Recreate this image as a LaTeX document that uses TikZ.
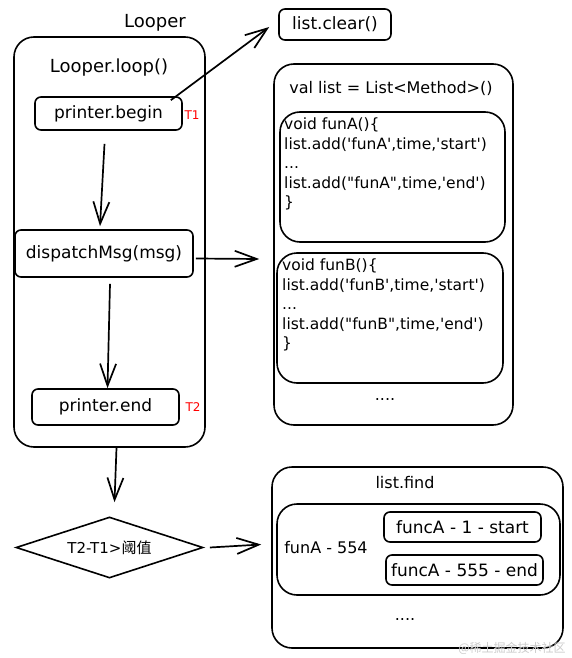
\documentclass[tikz,border=0pt]{standalone}
\usepackage{fontspec}
\setmainfont{DejaVu Sans}
\newfontfamily\cjkfont{Noto Sans CJK SC}
\usetikzlibrary{arrows.meta, shapes.geometric}
\newcommand{\sq}{\textquotesingle}
\newcommand{\dq}{\textquotedbl}

\begin{document}
\begin{tikzpicture}[x=1pt, y=-1pt,
        box/.style={draw, line width=1.6pt, rounded corners=6pt, inner sep=0pt, font=\fontsize{17}{20}\selectfont},
        panel/.style={draw, line width=1.6pt, rounded corners=20pt, inner sep=0pt},
        textlabel/.style={font=\fontsize{16}{19}\selectfont},
        codetext/.style={align=left, anchor=west, inner sep=0pt, font=\fontsize{15.5}{19.5}\selectfont},
        timelabel/.style={text=red, font=\fontsize{12}{14}\selectfont},
        flow/.style={-{Straight Barb[length=22pt, width=16pt]}, line width=1.7pt}]
      \useasboundingbox (0,0) rectangle (572,658);

      % Nodes
      \node[panel, minimum width=191pt, minimum height=410pt] (looper) at (109.5,242) {};
      \node[textlabel, font=\fontsize{18}{20}\selectfont] (loopertitle) at (155,23) {Looper};
      \node[textlabel, font=\fontsize{18}{20}\selectfont] (loop) at (109,68) {Looper.loop()};
      \node[box, minimum width=147pt, minimum height=33pt] (begin) at (108.5,113.5) {printer.begin};
      \node[box, minimum width=178pt, minimum height=47pt] (dispatch) at (104,253.5) {dispatchMsg(msg)};
      \node[box, minimum width=147pt, minimum height=36pt] (end) at (105.5,407) {printer.end};
      \node[timelabel] (t1) at (192,115) {T1};
      \node[timelabel] (t2) at (193,407) {T2};
      \node[box, minimum width=112pt, minimum height=31pt] (clear) at (335,24.5) {list.clear()};
      \node[draw, diamond, aspect=3, line width=1.6pt, inner sep=0pt, minimum width=187pt, minimum height=61pt,
            font=\fontsize{15}{18}\selectfont] (cond) at (109.5,547.5) {T2-T1>{\cjkfont 阈值}};

      \node[panel, minimum width=239pt, minimum height=361pt] (methods) at (393.5,244.5) {};
      \node[textlabel] (listdecl) at (391,88) {val list = List<Method>()};
      \node[panel, minimum width=225pt, minimum height=130pt] (funa) at (392.5,177) {};
      \node[codetext] (funacode) at (284,164) {void funA()\{\\list.add(\sq funA\sq,time,\sq start\sq)\\...\\list.add(\dq funA\dq,time,\sq end\sq)\\\}};
      \node[panel, minimum width=226pt, minimum height=130pt] (funb) at (390,318) {};
      \node[codetext] (funbcode) at (282,305) {void funB()\{\\list.add(\sq funB\sq,time,\sq start\sq)\\...\\list.add(\dq funB\dq,time,\sq end\sq)\\\}};
      \node[textlabel] (moremethods) at (385,400) {....};

      \node[panel, minimum width=291pt, minimum height=181pt] (find) at (417.5,557.5) {};
      \node[textlabel] (findtitle) at (405,483) {list.find};
      \node[panel, minimum width=283pt, minimum height=91pt] (group) at (418.5,549.5) {};
      \node[textlabel] (grouplabel) at (326,548) {funA - 554};
      \node[box, minimum width=157pt, minimum height=30pt] (startrec) at (462.5,527) {funcA - 1 - start};
      \node[box, minimum width=157pt, minimum height=30pt] (endrec) at (464.5,570) {funcA - 555 - end};
      \node[textlabel] (morefound) at (405,620) {....};
      \node[text=black!20, font=\cjkfont\fontsize{12}{14}\selectfont] (mark) at (512,648) {@稀土掘金技术社区};

      % Edges
      \draw[flow] ([xshift=-12pt, yshift=-4pt]begin.north east) -- ([xshift=-9pt, yshift=-2.5pt]clear.west);
      \draw[flow] ([xshift=-4pt, yshift=-13pt]begin.south) -- ([xshift=-4pt, yshift=3pt]dispatch.north);
      \draw[flow] ([xshift=2pt, yshift=-5pt]dispatch.east) -- ([xshift=-14pt, yshift=-14.5pt]methods.west);
      \draw[flow] ([xshift=6pt, yshift=-6pt]dispatch.south) -- ([xshift=2pt]end.north);
      \draw[flow] ([xshift=7pt]looper.south) -- ([xshift=5pt, yshift=14pt]cond.north);
      \draw[flow] ([xshift=6pt]cond.east) -- ([xshift=-10pt, yshift=13pt]find.west);
    \end{tikzpicture}
\end{document}
